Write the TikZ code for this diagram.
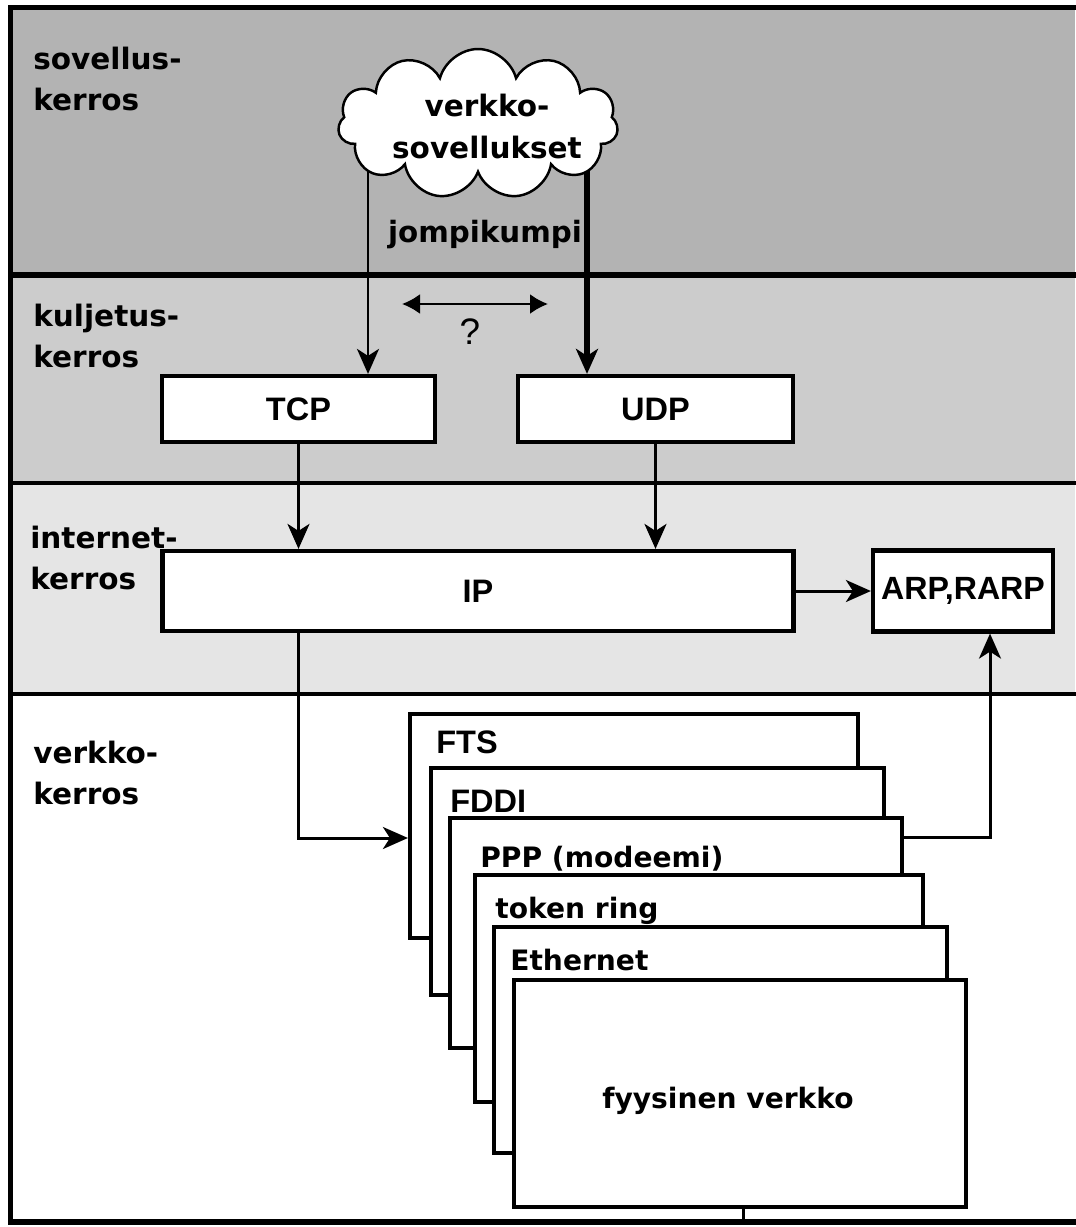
\documentclass[tikz,border=0pt]{standalone}
\usepackage{fontspec}
\setmainfont{DejaVu Sans}
\newfontfamily\arialfont{Liberation Sans}
\usetikzlibrary{arrows.meta,shapes.symbols,backgrounds}
\definecolor{appGray}{HTML}{B3B3B3}
\definecolor{transGray}{HTML}{CCCCCC}
\definecolor{netGray}{HTML}{E5E5E5}

\begin{document}
\begin{tikzpicture}[
    x=0.02cm, y=-0.02cm,
    >={Stealth[length=0.5cm,width=0.44cm,inset=0.14cm]},
    box/.style={rectangle, draw, line width=2.4pt, fill=white, inner sep=0pt, font=\arialfont\bfseries\fontsize{18.5}{22}\selectfont},
    stackbox/.style={rectangle, draw, line width=2.4pt, fill=white},
    layerlabel/.style={anchor=north west, inner sep=0pt, align=left, font=\bfseries\fontsize{16.8}{23.3}\selectfont},
    stacklabel/.style={anchor=base west, inner sep=0pt, font=\bfseries\fontsize{16}{19}\selectfont},
    arrow/.style={->, line width=1.7pt},
    thickarrow/.style={->, line width=3pt},
    dblarrow/.style={{Latex[length=0.36cm,width=0.4cm]}-{Latex[length=0.36cm,width=0.4cm]}, line width=1.3pt},
    layerline/.style={line width=2pt}
]
\useasboundingbox (0,0) rectangle (1075,1227);

% layer bands
\begin{scope}[on background layer]
\fill[appGray] (10,7) rectangle (1075,275);
\fill[transGray] (10,275) rectangle (1075,483);
\fill[netGray] (10,483) rectangle (1075,694);
\end{scope}
\draw[line width=3pt] (10,275) -- (1080,275);
\draw[layerline] (10,483) -- (1080,483);
\draw[layerline] (10,694) -- (1080,694);

\node[layerlabel] (app) at (33,47) {sovellus-\\kerros};
\node[layerlabel] (trans) at (33,304) {kuljetus-\\kerros};
\node[layerlabel] (inet) at (30,526) {internet-\\kerros};
\node[layerlabel] (link) at (33,741) {verkko-\\kerros};

% application cloud
\node[cloud, cloud puffs=11, cloud ignores aspect, draw, line width=1.4pt, fill=white, minimum width=5.6cm, minimum height=3cm, inner sep=0pt] (cloud) at (478,124) {};
\node[font=\bfseries\fontsize{16.8}{23.9}\selectfont, align=center, inner sep=0pt] (apps) at (487,126) {verkko-\\sovellukset};
\node[font=\bfseries\fontsize{16.7}{20}\selectfont, anchor=base, inner sep=0pt] (either) at (485,242) {jompikumpi};

% transport and internet
\node[box, minimum width=5.46cm, minimum height=1.32cm] (tcp) at (298.5,409) {TCP};
\node[box, minimum width=5.5cm, minimum height=1.32cm] (udp) at (655.5,409) {UDP};
\node[box, minimum width=12.62cm, minimum height=1.6cm] (ip) at (478,591) {IP};
\node[box, minimum width=3.6cm, minimum height=1.62cm, font=\arialfont\bfseries\fontsize{18.3}{22}\selectfont] (arp) at (963,591) {ARP,RARP};

\coordinate (tcpin) at (368,0);
\coordinate (udpin) at (587,0);
\begin{scope}[on background layer]
\draw[arrow] (tcpin |- cloud.center) -- (tcpin |- tcp.north);
\draw[thickarrow] (udpin |- cloud.center) -- (udpin |- udp.north);
\end{scope}

\coordinate (qa) at (402,304);
\coordinate (qb) at (548,304);
\draw[dblarrow] (qa) -- (qb);
\node[font=\arialfont\fontsize{21}{24}\selectfont, inner sep=0pt] (q) at (470,332) {?};

\draw[arrow] (tcp.south) -- (tcp.south |- ip.north);
\draw[arrow] (udp.south) -- (udp.south |- ip.north);
\draw[arrow] (ip.east) -- (arp.west);

% network interfaces
\node[stackbox, minimum width=8.96cm, minimum height=4.48cm] (fts) at (634,826) {};
\node[stacklabel, font=\arialfont\bfseries\fontsize{18.5}{22}\selectfont] (ftslbl) at (436,753) {FTS};
\node[stackbox, minimum width=9.06cm, minimum height=4.54cm] (fddi) at (657.5,881.5) {};
\node[stacklabel, font=\arialfont\bfseries\fontsize{18.5}{22}\selectfont] (fddilbl) at (450,812) {FDDI};
\node[stackbox, minimum width=9.04cm, minimum height=4.6cm] (ppp) at (676,933) {};
\node[stacklabel] (ppplbl) at (480,867) {PPP (modeemi)};
\node[stackbox, minimum width=8.96cm, minimum height=4.54cm] (token) at (699,988.5) {};
\node[stacklabel] (tokenlbl) at (495,918) {token ring};
\node[stackbox, minimum width=9.06cm, minimum height=4.52cm] (eth) at (720.5,1040) {};
\node[stacklabel] (ethlbl) at (510,970) {Ethernet};
\node[stackbox, minimum width=9.04cm, minimum height=4.54cm] (phys) at (740,1093.5) {};
\node[font=\bfseries\fontsize{16}{19}\selectfont, inner sep=0pt] (physlbl) at (728,1101) {fyysinen verkko};

\coordinate (ftsin) at (0,838);
\coordinate (arpin) at (990,837);
\coordinate (frameb) at (0,1222);
\draw[arrow] (tcp.south |- ip.south) |- (fts.west |- ftsin);
\draw[arrow] (ppp.east |- arpin) -| (arpin |- arp.south);
\draw[line width=1.7pt] ([xshift=0.06cm]phys.south) -- ([xshift=0.06cm]phys.south |- frameb);

% outer frame
\draw[line width=3pt] (1080,7.5) -- (10.5,7.5) -- (10.5,1222) -- (1080,1222);
\end{tikzpicture}
\end{document}
